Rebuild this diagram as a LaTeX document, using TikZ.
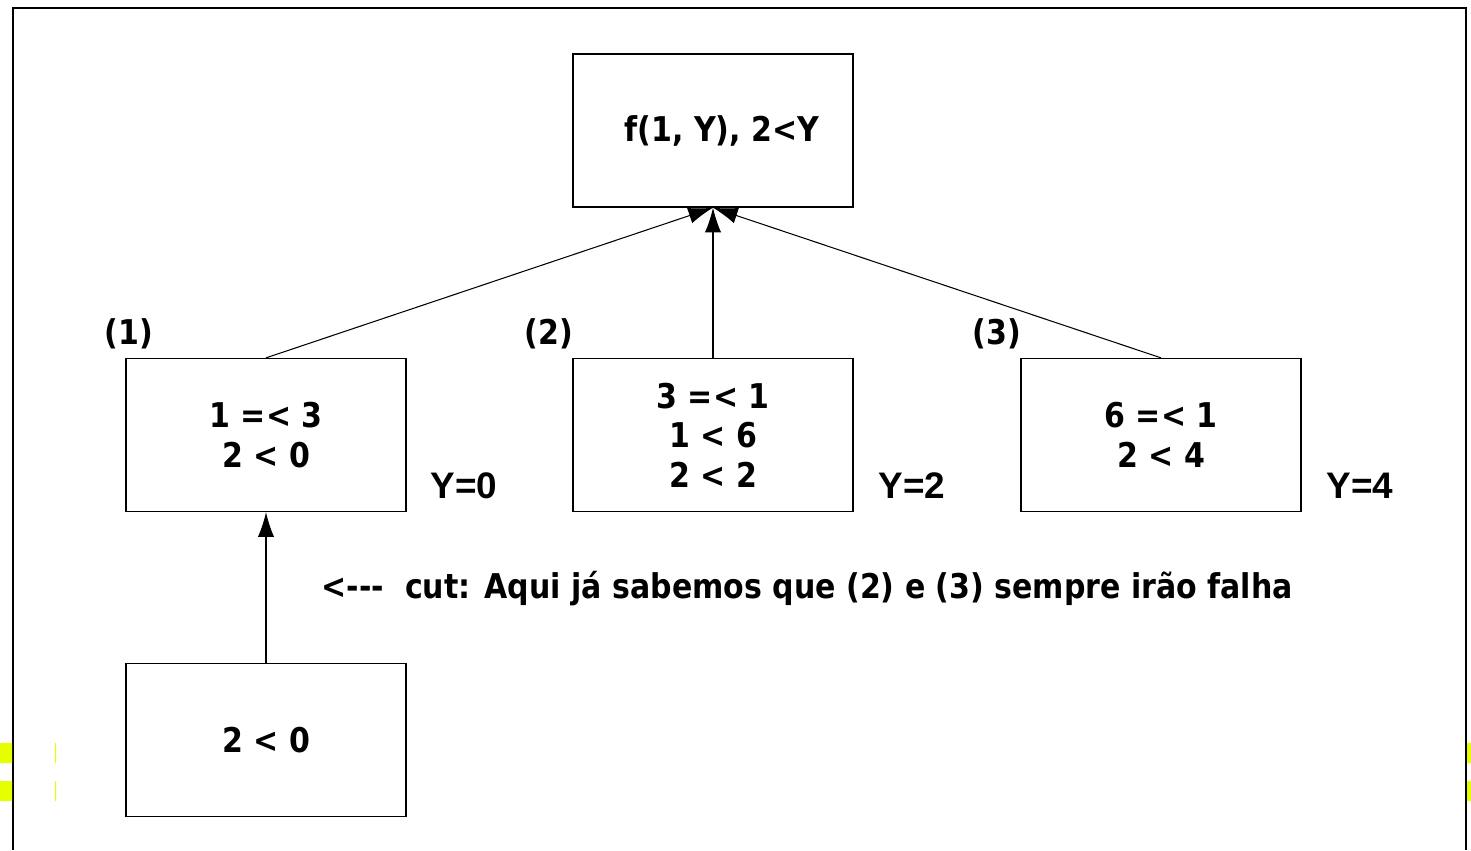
\documentclass[tikz,border=0pt]{standalone}
\usepackage{fontspec}
\setmainfont{DejaVu Sans}[FakeStretch=0.88]
\newfontfamily\yfont{Liberation Sans}
\usetikzlibrary{arrows.meta}
\definecolor{marker}{RGB}{230,255,0}

\begin{document}
\begin{tikzpicture}[x=0.01cm,y=-0.01cm,
        box/.style={draw,line width=0.35pt,minimum width=2.8cm,minimum height=1.53cm,
          align=center,inner sep=0pt,font=\fontsize{9.7}{11.2}\selectfont\bfseries},
        lbl/.style={inner sep=0pt,font=\fontsize{9.7}{11.2}\selectfont\bfseries},
        ylbl/.style={inner sep=0pt,anchor=west,font=\fontsize{10.5}{12}\selectfont\yfont\bfseries},
        arr/.style={line width=0.3pt,-{Latex[length=7pt,width=4.6pt]}}]
        \useasboundingbox (0,0) rectangle (1471,850);

        \draw[line width=0.6pt] (13,850) -- (13,8) -- (1466,8) -- (1466,850);
        \fill[marker] (0,743) rectangle (12,763) (0,781) rectangle (12,801);
        \fill[marker] (55,743) rectangle (56,763) (55,781) rectangle (56,801);
        \fill[marker] (1467,743) rectangle (1471,763) (1467,781) rectangle (1471,801);

        \node[box] (goal) at (713,130.5) {\hspace*{5pt}f(1, Y), 2<Y};
        \node[box] (c1) at (266,435) {1 =< 3\\2 < 0};
        \node[box] (c2) at (713,435) {3 =< 1\\1 < 6\\2 < 2};
        \node[box] (c3) at (1161,435) {6 =< 1\\2 < 4};
        \node[box] (sub) at (266,740) {2 < 0};

        \node[lbl] (n1) at (129,334) {(1)};
        \node[lbl] (n2) at (549,334) {(2)};
        \node[lbl] (n3) at (997,334) {(3)};

        \begin{scope}
          \clip (420,450) rectangle (494,520);
          \node[ylbl] (y0) at (430,486) {Y=0};
        \end{scope}
        \node[ylbl] (y2) at (878,486) {Y=2};
        \node[ylbl] (y4) at (1326,486) {Y=4};

        \begin{scope}
          \clip (300,560) rectangle (1293,620);
          \node[lbl,anchor=west] (cut) at (321,589) {<{-}{-}{-}\ \ cut: Aqui já sabemos que (2) e (3) sempre irão falhar};
        \end{scope}

        \foreach \c in {c1,c2,c3}
          \draw[arr] (\c.north) -- (goal.south);
        \draw[arr] (sub.north) -- (c1.south);
      \end{tikzpicture}
\end{document}
